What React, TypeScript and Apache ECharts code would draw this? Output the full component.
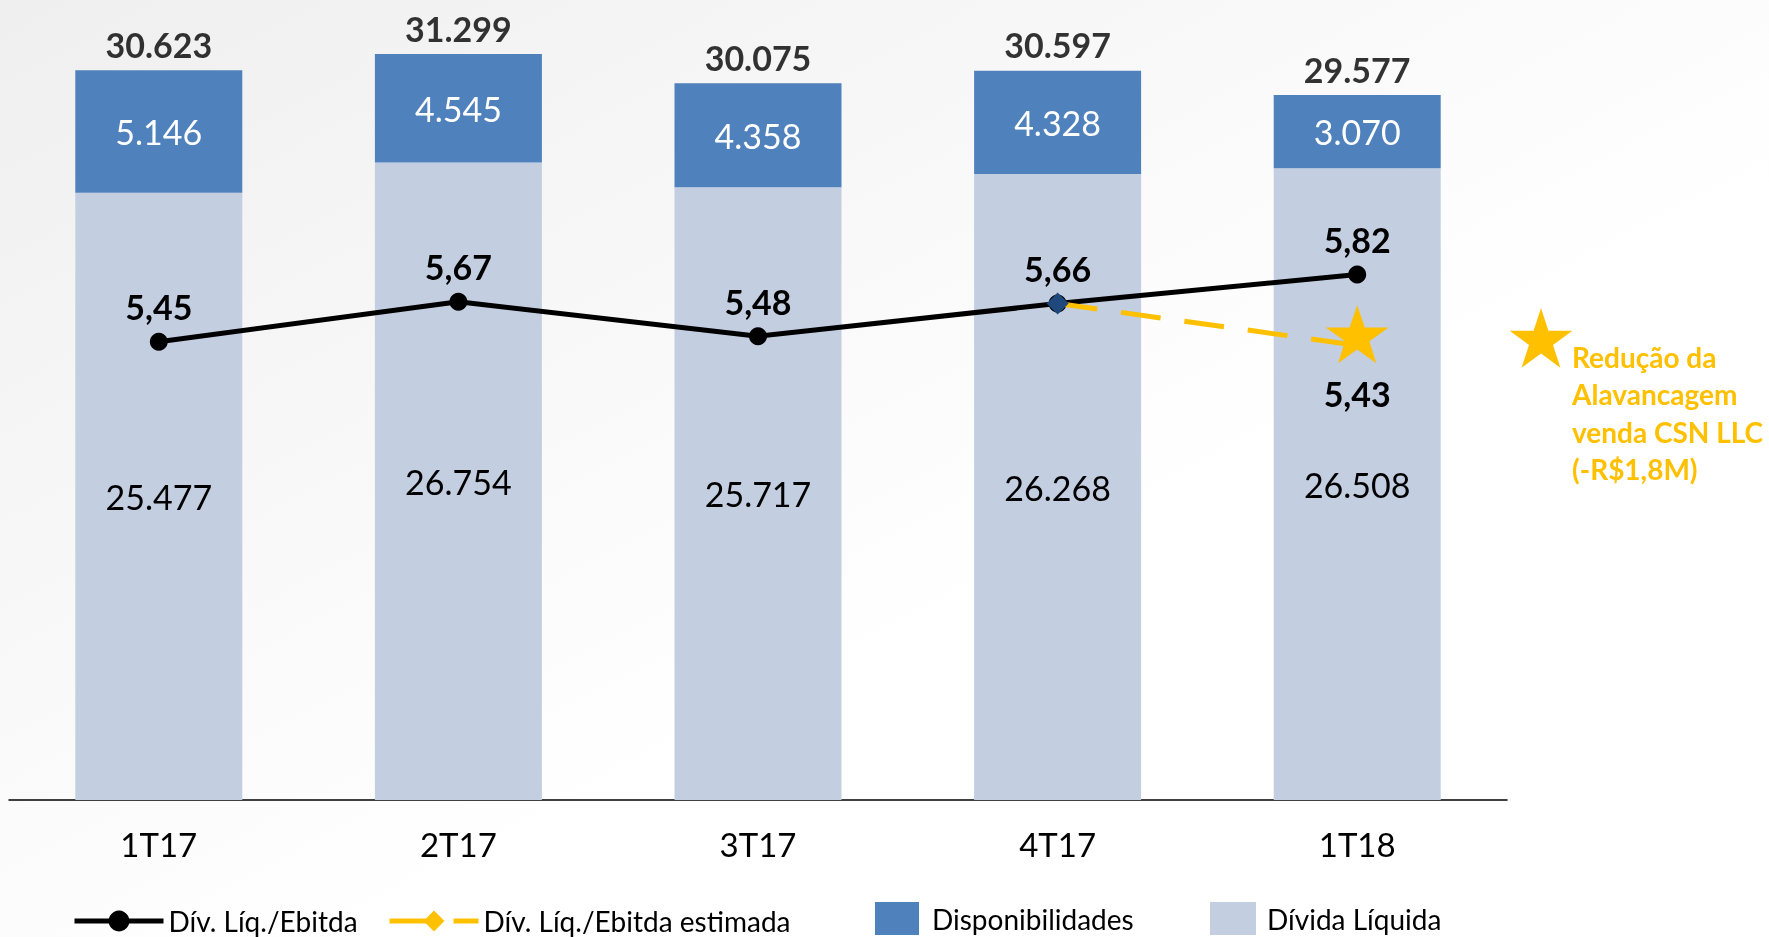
import React, { useEffect, useRef } from 'react';
import * as echarts from 'echarts';

const categories = ['1T17', '2T17', '3T17', '4T17', '1T18'];
const dividaLiquida = [25477, 26754, 25717, 26268, 26508];
const disponibilidades = [5146, 4545, 4358, 4328, 3070];
const totais = [30623, 31299, 30075, 30597, 29577];
const divLiqEbitda = [5.45, 5.67, 5.48, 5.66, 5.82];
const divLiqEbitdaEstimada: (number | null)[] = [null, null, null, 5.66, 5.43];
const legendNames = ['Dív. Líq./Ebitda', 'Dív. Líq./Ebitda estimada', 'Disponibilidades', 'Dívida Líquida'];
const annotationLines = ['Redução da', 'Alavancagem', 'venda CSN LLC', '(-R$1,8M)'];

const FONT = 'Lato';
const YELLOW = '#FFC000';
const STAR = 'path://M50,0 L61.8,35.1 L98.5,35.1 L68.8,56.7 L79.4,91.9 L50,70 L20.6,91.9 L31.2,56.7 L1.5,35.1 L38.2,35.1 Z';

const fmtThousands = (v: number) => String(Math.round(v)).replace(/\B(?=(\d{3})+(?!\d))/g, '.');
const fmtRatio = (v: number) => v.toFixed(2).replace('.', ',');

function starPoints(cx: number, cy: number, R: number) {
  const r = R * 0.382;
  const pts: number[][] = [];
  for (let i = 0; i < 10; i++) {
    const a = -Math.PI / 2 + (i * Math.PI) / 5;
    const rad = i % 2 === 0 ? R : r;
    pts.push([cx + rad * Math.cos(a), cy + rad * Math.sin(a)]);
  }
  return pts;
}

export default function App() {
  const ref = useRef<HTMLDivElement>(null);
  useEffect(() => {
    if (!ref.current) return;
    const chart = echarts.init(ref.current, null, { renderer: 'svg' });
    const lastIdx = divLiqEbitdaEstimada.length - 1;
    const estData = divLiqEbitdaEstimada.map((v, i) => {
      if (v === null) return null;
      if (i === lastIdx) {
        return {
          value: v,
          symbol: STAR,
          symbolSize: [63, 58],
          symbolOffset: [0, -11],
          itemStyle: { color: YELLOW },
          label: { show: true, position: 'bottom', distance: 13 },
        };
      }
      return {
        value: v,
        symbol: 'diamond',
        symbolSize: 22,
        itemStyle: { color: '#1F497D' },
        label: { show: false },
      };
    });

    const legendText = { fontSize: 28, color: '#000', fontFamily: FONT };

    chart.setOption({
      animation: false,
      textStyle: { fontFamily: FONT },
      graphic: [
        {
          type: 'rect',
          z: -100,
          silent: true,
          shape: { x: 0, y: 0, width: 1769, height: 937 },
          style: {
            fill: new echarts.graphic.LinearGradient(0, 0, 1, 1, [
              { offset: 0, color: '#efefef' },
              { offset: 0.6, color: '#ffffff' },
              { offset: 1, color: '#ffffff' },
            ]),
          },
        },
        {
          type: 'polygon',
          silent: true,
          shape: { points: starPoints(1541, 341, 33) },
          style: { fill: YELLOW },
        },
        {
          type: 'text',
          silent: true,
          x: 1572,
          y: 338,
          style: {
            text: annotationLines.join('\n'),
            fill: YELLOW,
            font: `bold 28px ${FONT}`,
            lineHeight: 37.5,
            verticalAlign: 'top',
          },
        },
      ],
      legend: [
        {
          data: [legendNames[0]], left: 72, top: 907, padding: 0, itemWidth: 89, itemHeight: 26,
          lineStyle: { width: 5 }, textStyle: legendText,
        },
        {
          data: [legendNames[1]], left: 387, top: 907, padding: 0, itemWidth: 89, itemHeight: 26,
          lineStyle: { width: 5 }, textStyle: legendText,
        },
        {
          data: [legendNames[2]], left: 875, top: 902, padding: 0, itemWidth: 44, itemHeight: 33,
          icon: 'rect', textStyle: { ...legendText, padding: [0, 0, 0, 8] },
        },
        {
          data: [legendNames[3]], left: 1210, top: 902, padding: 0, itemWidth: 46, itemHeight: 33,
          icon: 'rect', textStyle: { ...legendText, padding: [0, 0, 0, 6] },
        },
      ],
      grid: { left: 9, right: 262, top: 37.4, bottom: 137, containLabel: false },
      xAxis: {
        type: 'category',
        data: categories,
        axisTick: { show: false },
        axisLine: { lineStyle: { color: '#000', width: 1.5 } },
        axisLabel: { fontSize: 33, color: '#000', fontFamily: FONT, margin: 27 },
      },
      yAxis: [
        { type: 'value', min: 0, max: 32000, show: false },
        { type: 'value', min: 2.929, max: 7.124, show: false },
      ],
      series: [
        {
          name: legendNames[3],
          type: 'bar',
          stack: 'total',
          barWidth: 167,
          data: dividaLiquida,
          itemStyle: { color: '#C3CEE1' },
          label: {
            show: true, position: 'inside', color: '#000', fontSize: 34, fontFamily: FONT,
            formatter: (p: any) => fmtThousands(p.value),
          },
        },
        {
          name: legendNames[2],
          type: 'bar',
          stack: 'total',
          barWidth: 167,
          data: disponibilidades,
          itemStyle: { color: '#4F81BD' },
          label: {
            show: true, position: 'inside', color: '#fff', fontSize: 34, fontFamily: FONT,
            formatter: (p: any) => fmtThousands(p.value),
          },
        },
        {
          name: 'Total',
          type: 'scatter',
          data: totais,
          symbolSize: 0,
          silent: true,
          label: {
            show: true, position: 'top', distance: 9, color: '#000', fontSize: 34,
            fontWeight: 'bold', fontFamily: FONT,
            formatter: (p: any) => fmtThousands(p.value),
          },
        },
        {
          name: legendNames[0],
          type: 'line',
          yAxisIndex: 1,
          data: divLiqEbitda,
          symbol: 'circle',
          symbolSize: 18,
          itemStyle: { color: '#000' },
          lineStyle: { color: '#000', width: 5 },
          z: 5,
          label: {
            show: true, position: 'top', distance: 9, color: '#000', fontSize: 34,
            fontWeight: 'bold', fontFamily: FONT,
            formatter: (p: any) => fmtRatio(p.value),
          },
        },
        {
          name: legendNames[1],
          type: 'line',
          yAxisIndex: 1,
          data: estData,
          symbol: 'diamond',
          symbolSize: 16,
          itemStyle: { color: YELLOW },
          lineStyle: { color: YELLOW, width: 5, type: [40, 24] },
          z: 6,
          label: {
            color: '#000', fontSize: 34, fontWeight: 'bold', fontFamily: FONT,
            formatter: (p: any) => fmtRatio(p.value),
          },
        },
      ],
    });
    return () => chart.dispose();
  }, []);
  return <div ref={ref} style={{ position: 'fixed', left: 0, top: 0, width: 1769, height: 937 }} />;
}
